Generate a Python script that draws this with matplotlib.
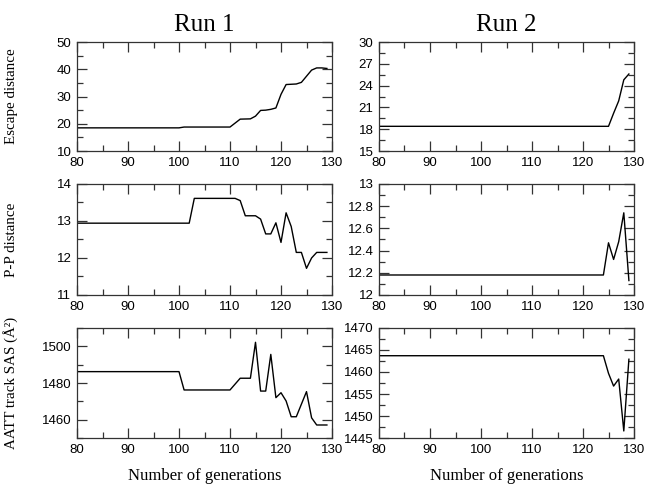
import numpy as np
import matplotlib.pyplot as plt
from matplotlib.ticker import MultipleLocator, FormatStrFormatter

# --------------------------------------------------------------
# Dane (punkty zalamania linii)
# --------------------------------------------------------------
# Run 1 - Escape distance
gen_esc1 = [80, 100, 101, 110, 112, 114, 115, 116, 117, 118, 119, 120, 121, 123, 124, 126, 127, 128, 129]
esc1 = [18.5, 18.5, 18.8, 18.8, 21.7, 21.8, 22.8, 24.9, 25.0, 25.3, 25.8, 30.8, 34.4, 34.6, 35.2, 39.7, 40.5, 40.5, 40.3]

# Run 2 - Escape distance
gen_esc2 = [80, 125, 126, 127, 128, 129]
esc2 = [18.4, 18.4, 20.2, 21.9, 24.8, 25.6]

# Run 1 - P-P distance
gen_pp1 = [80, 102, 103, 111, 112, 113, 115, 116, 117, 118, 119, 120, 121, 122, 123, 124, 125, 126, 127, 129]
pp1 = [12.94, 12.94, 13.61, 13.61, 13.55, 13.14, 13.14, 13.05, 12.65, 12.65, 12.95, 12.42,
       13.22, 12.85, 12.15, 12.15, 11.72, 12.0, 12.15, 12.15]

# Run 2 - P-P distance
gen_pp2 = [80, 124, 125, 126, 127, 128, 129]
pp2 = [12.18, 12.18, 12.47, 12.32, 12.48, 12.74, 12.13]

# Run 1 - AATT track SAS
gen_sas1 = [80, 100, 101, 110, 112, 114, 115, 116, 117, 118, 119, 120, 121, 122, 123, 125, 126, 127, 129]
sas1 = [1486.2, 1486.2, 1476.2, 1476.2, 1482.6, 1482.6, 1502.2, 1475.6, 1475.6, 1495.6, 1472.0,
        1474.7, 1470.2, 1461.6, 1461.6, 1475.3, 1461.0, 1457.1, 1457.1]

# Run 2 - AATT track SAS
gen_sas2 = [80, 124, 125, 126, 127, 128, 129]
sas2 = [1463.7, 1463.7, 1459.7, 1456.8, 1458.4, 1446.6, 1462.9]

titles = ["Run 1", "Run 2"]
ylabels = ["Escape distance", "P-P distance", "AATT track SAS (Å²)"]

# --------------------------------------------------------------
# Rysowanie
# --------------------------------------------------------------
plt.rcParams['font.family'] = ['Liberation Sans', 'DejaVu Sans']
serif = ['Liberation Serif', 'DejaVu Serif']

fig = plt.figure(figsize=(6.48, 4.87), dpi=100)

lefts = [77 / 648, 379 / 648]
width = 255 / 648
rows = [(0.6899, 0.2238), (0.3943, 0.228), (0.1006, 0.2259)]

series = [
    [(gen_esc1, esc1), (gen_esc2, esc2)],
    [(gen_pp1, pp1), (gen_pp2, pp2)],
    [(gen_sas1, sas1), (gen_sas2, sas2)],
]
ylims = [[(10, 50), (15, 30)], [(11, 14), (12, 13)], [(1450, 1510), (1445, 1470)]]
ysteps = [[(10, 5), (3, 1.5)], [(1, 0.5), (0.2, 0.1)], [(20, 10), (5, 2.5)]]

for r in range(3):
    for c in range(2):
        bottom, height = rows[r]
        ax = fig.add_axes([lefts[c], bottom, width, height])
        x, y = series[r][c]
        ax.plot(x, y, color='black', linewidth=1.0)
        ax.set_xlim(80, 130)
        ax.set_ylim(*ylims[r][c])
        ax.xaxis.set_major_locator(MultipleLocator(10))
        ax.xaxis.set_minor_locator(MultipleLocator(5))
        ax.yaxis.set_major_locator(MultipleLocator(ysteps[r][c][0]))
        ax.yaxis.set_minor_locator(MultipleLocator(ysteps[r][c][1]))
        ax.yaxis.set_major_formatter(FormatStrFormatter('%g'))
        ax.tick_params(which='both', direction='in', top=True, right=True,
                       labelsize=9.5, pad=4, color='#333333')
        ax.tick_params(which='major', length=7, width=0.9)
        ax.tick_params(which='minor', length=4, width=0.9)
        for s in ax.spines.values():
            s.set_linewidth(0.9)
            s.set_color('#333333')
        if r == 0:
            ax.set_title(titles[c], family=serif, fontsize=18, pad=8)
        if c == 0:
            ax.set_ylabel(ylabels[r], family=serif, fontsize=10.8)
            ax.yaxis.set_label_coords(-59 / 255, 0.5)
        if r == 2:
            ax.set_xlabel("Number of generations", family=serif, fontsize=12, labelpad=9)

fig.savefig("out.png", dpi=100)
